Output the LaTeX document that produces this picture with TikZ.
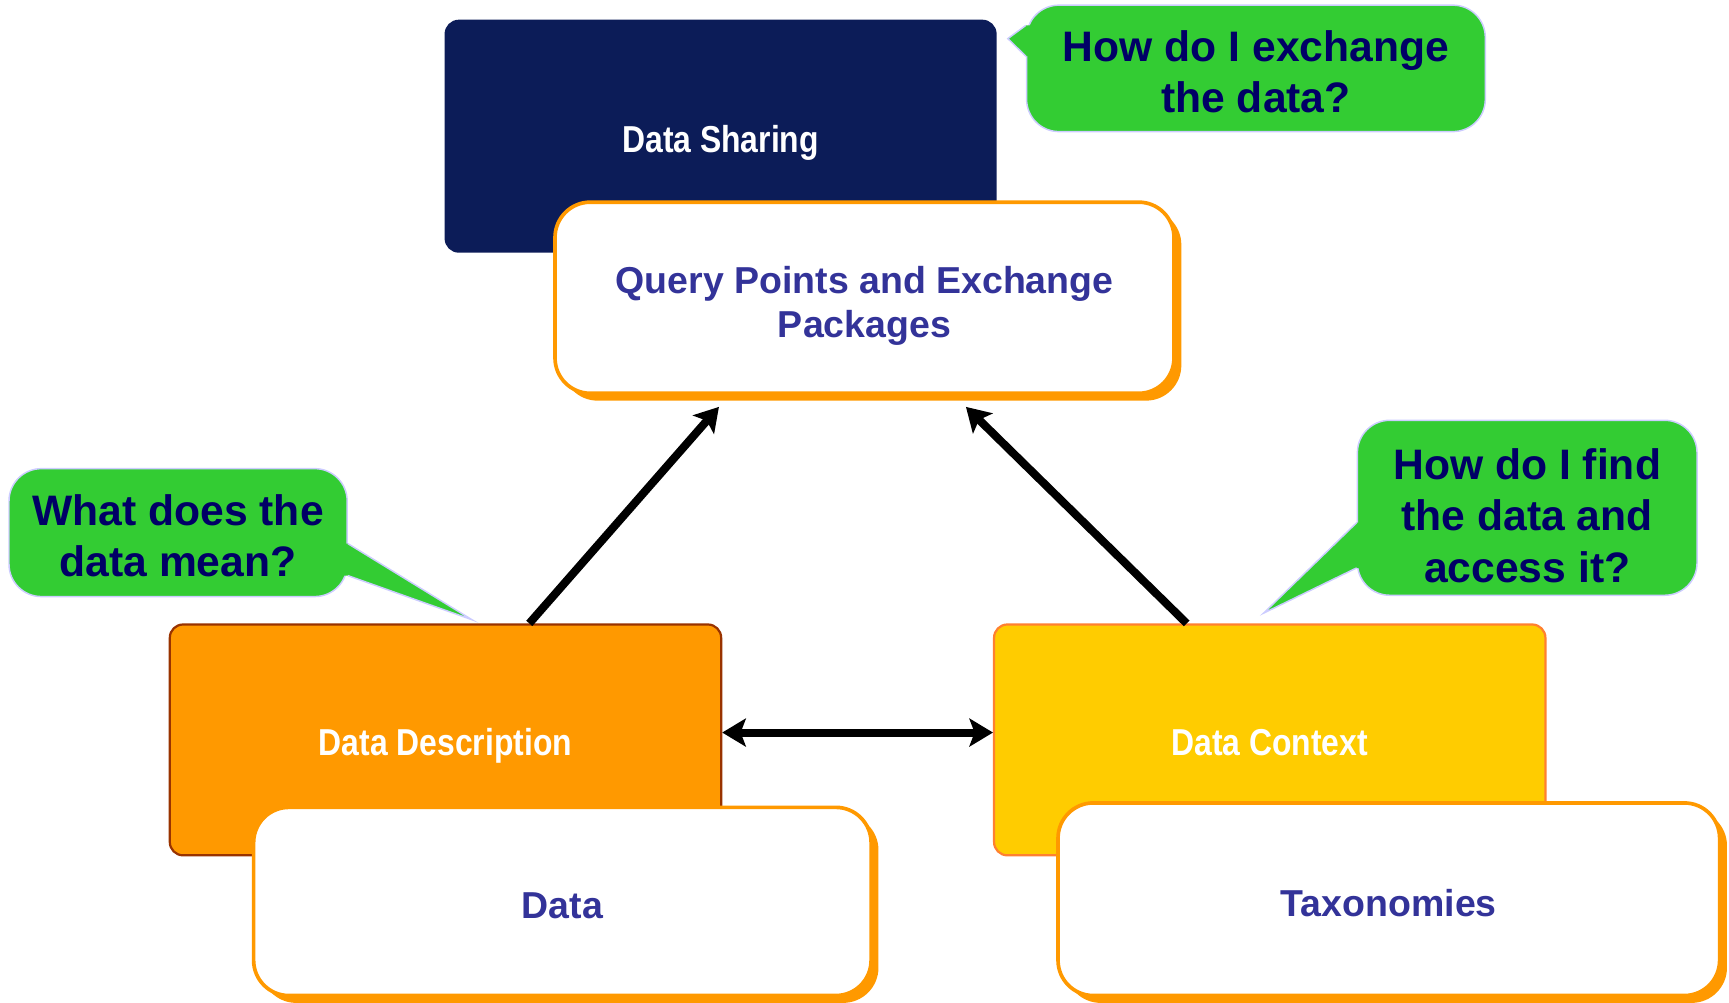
\documentclass[tikz,border=0pt]{standalone}
\usepackage{fontspec}
\setmainfont{Liberation Sans}
\newfontfamily\narrowsf[FakeStretch=0.85]{Liberation Sans}
\usetikzlibrary{arrows.meta,shadows,calc}

\definecolor{navybox}{HTML}{0C1C58}
\definecolor{boxorange}{HTML}{FF9900}
\definecolor{descline}{HTML}{993300}
\definecolor{ctxfill}{HTML}{FFCC00}
\definecolor{ctxline}{HTML}{FF8030}
\definecolor{labelblue}{HTML}{333399}
\definecolor{bubblegreen}{HTML}{33CC33}
\definecolor{bubbleline}{HTML}{CCCCFF}
\definecolor{bubbletext}{HTML}{000066}

\tikzset{
  tagbox/.style={line width=1.5pt, rounded corners=9pt, text=white, align=center,
    font=\narrowsf\bfseries\fontsize{25.5}{30}\selectfont, inner sep=0pt,
    text height=22pt, text depth=0pt},
  whitebox/.style={draw=boxorange, line width=2.5pt, fill=white, rounded corners=24pt,
    drop shadow={shadow xshift=5pt, shadow yshift=-5pt, fill=boxorange, opacity=1},
    text=labelblue, align=center, font=\bfseries\fontsize{25.5}{30}\selectfont, inner sep=0pt,
    text height=23pt, text depth=0pt},
  bubble/.style={fill=bubblegreen, draw=bubbleline, line width=1pt, rounded corners=22pt,
    text=bubbletext, align=center, font=\bfseries\fontsize{29}{35}\selectfont, inner sep=0pt,
    text depth=0pt},
  tailfill/.style={fill=bubblegreen},
  tailedge/.style={draw=bubbleline, line width=1pt},
  link/.style={line width=5.5pt, -{Stealth[length=16pt,width=19pt,inset=3.5pt]}},
  twolink/.style={line width=5.5pt, {Stealth[length=16pt,width=19pt,inset=3.5pt]}-{Stealth[length=16pt,width=19pt,inset=3.5pt]}}
}

\begin{document}
\begin{tikzpicture}[x=0.75pt,y=0.75pt,yscale=-1,xscale=1]
\useasboundingbox (0,0) rectangle (1568,909.5);

%Rounded Rect: sharing
\draw (653.5,123.5) node [tagbox, fill=navybox, draw=navybox, minimum width=374pt, minimum height=157pt] (share) {Data Sharing};
%Rounded Rect: query points
\draw (784,270) node [whitebox, text height=54pt, minimum width=421pt, minimum height=130pt] (query) {Query Points and Exchange\\Packages};

%Rounded Rect: description
\draw (404,671) node [tagbox, text height=21pt, fill=boxorange, draw=descline, minimum width=375pt, minimum height=157pt] (desc) {Data Description};
%Rounded Rect: data
\draw (510,817.5) node [whitebox, minimum width=420pt, minimum height=128pt] (data) {Data};

%Rounded Rect: context
\draw (1151.5,671) node [tagbox, text height=21pt, fill=ctxfill, draw=ctxline, minimum width=375pt, minimum height=157pt] (context) {Data Context};
%Rounded Rect: taxonomies
\draw (1259.5,815.5) node [whitebox, minimum width=450pt, minimum height=131pt] (taxa) {Taxonomies};

% Callouts
\draw (1139,62) node [bubble, text height=60.5pt, minimum width=312pt, minimum height=86pt] (ask1) {How do I exchange\\the data?};
\coordinate (tip1) at (914,35);
\fill [tailfill] ($(ask1.west)+(12,-39)$) -- ($(ask1.west)+(0,-39)$) -- (tip1) -- ($(ask1.west)+(0,-11)$) -- ($(ask1.west)+(12,-11)$) -- cycle;
\draw [tailedge] ($(ask1.west)+(0,-39)$) -- (tip1) -- ($(ask1.west)+(0,-11)$);

\draw (161.5,483) node [bubble, text height=60pt, minimum width=230pt, minimum height=87pt] (ask2) {What does the\\data mean?};
\coordinate (tip2) at (428,562);
\fill [tailfill] ($(ask2.east)+(-12,10)$) -- ($(ask2.east)+(0,10)$) -- (tip2) -- ($(ask2.east)+(0,39)$) -- ($(ask2.east)+(-12,39)$) -- cycle;
\draw [tailedge] ($(ask2.east)+(0,10)$) -- (tip2) -- ($(ask2.east)+(0,39)$);

\draw (1385,460.5) node [bubble, text height=101pt, minimum width=231pt, minimum height=119pt] (ask3) {How do I find\\the data and\\access it?};
\coordinate (tip3) at (1146,556);
\fill [tailfill] ($(ask3.west)+(15,13.5)$) -- ($(ask3.west)+(0,13.5)$) -- (tip3) -- ($(ask3.west)+(0,54.5)$) -- ($(ask3.west)+(15,54.5)$) -- cycle;
\draw [tailedge] ($(ask3.west)+(0,13.5)$) -- (tip3) -- ($(ask3.west)+(0,54.5)$);

%Straight Lines
\draw [link] ([xshift=57pt]desc.north) -- ([xshift=-99pt,yshift=8pt]query.south);
\draw [link] ([xshift=-56.5pt]context.north) -- ([xshift=69pt,yshift=8pt]query.south);
\draw [twolink] ([yshift=-5pt]desc.east) -- ([yshift=-5pt]context.west);

\end{tikzpicture}
\end{document}
